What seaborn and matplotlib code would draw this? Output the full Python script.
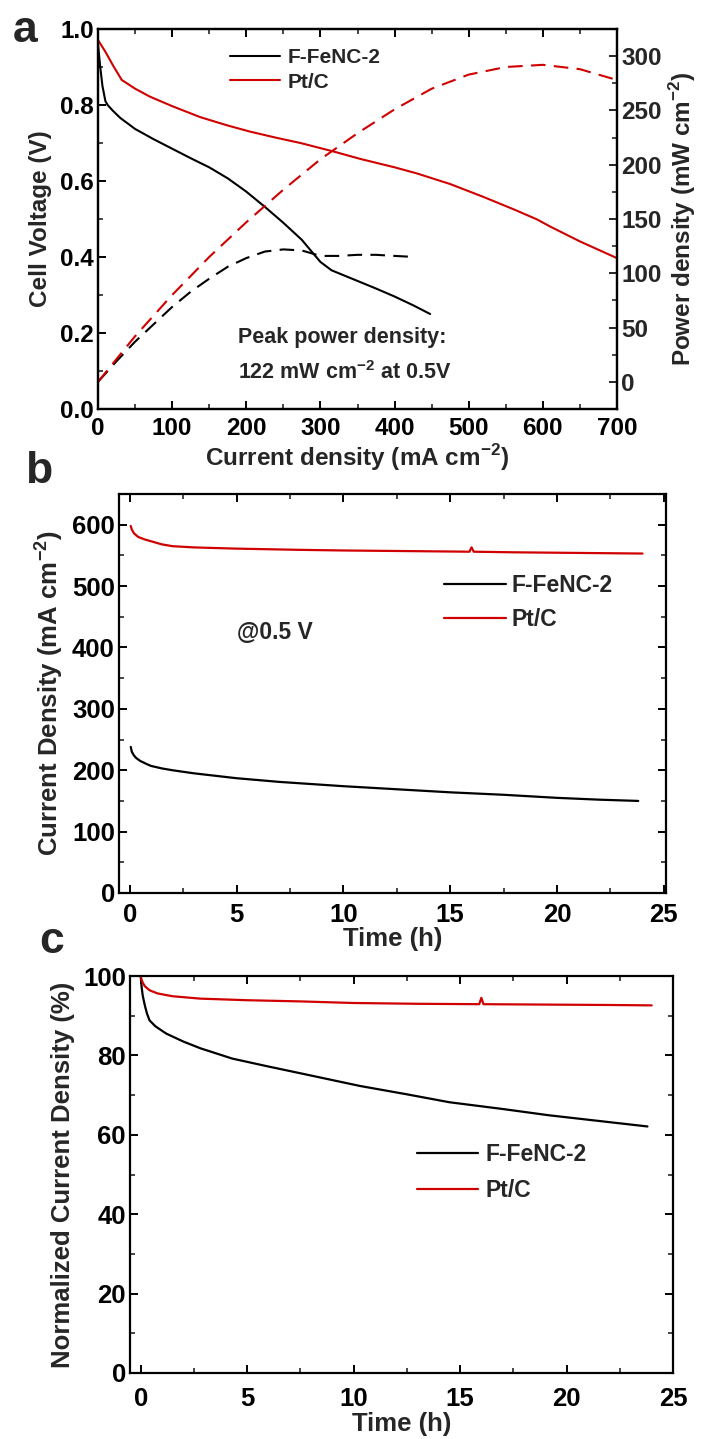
import numpy as np
import pandas as pd
import matplotlib
matplotlib.use("Agg")
import matplotlib.pyplot as plt
import seaborn as sns
from matplotlib.ticker import MultipleLocator

# ---------------- data ----------------
# panel a: polarization curves (current density mA cm-2, voltage V)
fe_x = [0, 3, 6, 10, 13, 20, 30, 50, 75, 100, 125, 150, 175, 200, 225, 250, 275, 290, 300, 315, 340, 375, 400, 425, 448]
fe_v = [0.96, 0.90, 0.85, 0.81, 0.80, 0.785, 0.766, 0.737, 0.71, 0.685, 0.66, 0.636, 0.607, 0.572, 0.532, 0.49, 0.445, 0.41, 0.387, 0.365, 0.345, 0.317, 0.296, 0.273, 0.25]
pt_x = [0, 10, 20, 32, 50, 70, 100, 138, 175, 205, 240, 273, 317, 354, 400, 430, 475, 520, 560, 592, 610, 650, 700]
pt_v = [0.971, 0.94, 0.905, 0.866, 0.843, 0.822, 0.797, 0.768, 0.746, 0.730, 0.714, 0.700, 0.678, 0.658, 0.636, 0.620, 0.592, 0.558, 0.526, 0.499, 0.480, 0.441, 0.397]
# power density (mW cm-2)
fe_pd_x = [0, 25, 50, 75, 100, 125, 150, 175, 200, 225, 250, 275, 300, 325, 350, 375, 400, 428]
fe_pd = [0, 19, 37, 53, 69, 83, 95, 106, 114, 120, 122, 121, 116, 116, 117, 117, 116, 115]
pt_pd_x = [0, 50, 100, 150, 200, 250, 300, 350, 400, 450, 500, 550, 600, 650, 700]
pt_pd = [0, 42, 80, 115, 147, 177, 205, 229, 251, 270, 283, 290, 292, 288, 278]

# panel b: current density vs time at 0.5 V
fe_t = [0.05, 0.1, 0.2, 0.3, 0.5, 0.8, 1.0, 1.5, 2, 3, 4, 5, 7, 10, 12.5, 15, 17.5, 20, 22, 23.8]
fe_i = [238, 230, 224, 220, 215, 210, 207, 203, 200, 195, 191, 187, 181, 174, 169, 164, 160, 155, 152, 150]
pt_t = [0.05, 0.1, 0.2, 0.4, 0.7, 1.0, 1.5, 2, 3, 5, 8, 10, 13, 15.9, 16.0, 16.1, 18, 21, 24]
pt_i = [598, 592, 586, 580, 576, 573, 568, 565, 563, 561, 559, 558, 557, 556, 563, 556, 555, 554, 553]

# panel c: normalized current density (%)
fe_n_t = [0.0, 0.05, 0.1, 0.2, 0.3, 0.42, 0.7, 1.2, 2.0, 2.8, 4.3, 6.0, 7.5, 10.3, 12.5, 14.5, 17.0, 19.2, 21.5, 23.8]
fe_n = [100, 97, 95, 92.5, 90.5, 88.8, 87.3, 85.5, 83.5, 81.8, 79.2, 77.2, 75.5, 72.3, 70.2, 68.2, 66.5, 64.9, 63.5, 62.1]
pt_n_t = [0.0, 0.05, 0.1, 0.2, 0.42, 0.8, 1.5, 2.8, 5.0, 7.5, 10.0, 13.0, 15.9, 16.0, 16.1, 19.0, 22.0, 24.0]
pt_n = [100, 99, 98.3, 97.4, 96.4, 95.6, 94.9, 94.3, 93.9, 93.6, 93.2, 93.0, 92.9, 94.5, 92.9, 92.8, 92.7, 92.6]

RED = "#d00000"
BLACK = "#000000"

sns.set_theme(style="ticks")
plt.rcParams["font.family"] = ["Liberation Sans", "DejaVu Sans"]
plt.rcParams["font.weight"] = "bold"
plt.rcParams["axes.labelweight"] = "bold"
plt.rcParams["mathtext.fontset"] = "custom"
plt.rcParams["mathtext.rm"] = "Liberation Sans:bold"
plt.rcParams["mathtext.bf"] = "Liberation Sans:bold"
plt.rcParams["axes.linewidth"] = 1.6
plt.rcParams["axes.edgecolor"] = "black"

W, H = 706, 1439
fig = plt.figure(figsize=(W / 100, H / 100), dpi=100)

FA = 17.5   # panel a text
FB = 18.5   # panels b, c text


def rect(l, t, r, b):
    return [l / W, 1 - b / H, (r - l) / W, (b - t) / H]


def style_ticks(ax, size, top=True, right=True, xpad=3):
    ax.tick_params(which="major", direction="in", length=6, width=1.4, labelsize=size,
                   top=top, right=right, colors="black", labelcolor="black", pad=3)
    ax.tick_params(axis="x", which="major", pad=xpad)
    ax.tick_params(which="minor", direction="in", length=3.5, width=1.2, top=top, right=right)
    for lab in ax.get_xticklabels() + ax.get_yticklabels():
        lab.set_fontweight("bold")


def line(ax, x, y, color, ls="-", lw=1.5, label=None):
    df = pd.DataFrame({"x": x, "y": y})
    sns.lineplot(data=df, x="x", y="y", ax=ax, color=color, linestyle=ls, lw=lw,
                 label=label, sort=False, estimator=None)


# ---------------- panel a ----------------
axa = fig.add_axes(rect(98, 29, 617, 409))
line(axa, fe_x, fe_v, BLACK, label="F-FeNC-2")
line(axa, pt_x, pt_v, RED, label="Pt/C")
axa.set_xlim(0, 700)
axa.set_ylim(0, 1.0)
axa.xaxis.set_major_locator(MultipleLocator(100))
axa.xaxis.set_minor_locator(MultipleLocator(50))
axa.yaxis.set_major_locator(MultipleLocator(0.2))
axa.yaxis.set_minor_locator(MultipleLocator(0.1))
axa.set_yticks([0, 0.2, 0.4, 0.6, 0.8, 1.0])
axa.set_yticklabels(["0.0", "0.2", "0.4", "0.6", "0.8", "1.0"])
style_ticks(axa, FA, top=True, right=False, xpad=6)
axa.set_xlabel(r"Current density (mA cm$^{\mathbf{-2}}$)", fontsize=FA, labelpad=1)
axa.set_ylabel("Cell Voltage (V)", fontsize=FA, labelpad=6)
axa.legend(loc="center left", bbox_to_anchor=(0.254, 0.892), frameon=False,
           prop={"size": 15, "weight": "bold"}, handlelength=2.4, handletextpad=0.38,
           labelspacing=0.25, borderaxespad=0, borderpad=0)
axa.text(0.27, 0.187, "Peak power density:", transform=axa.transAxes, fontsize=15.5,
         fontweight="bold", va="center", ha="left")
axa.text(0.27, 0.097, r"122 mW cm$^{\mathbf{-2}}$ at 0.5V", transform=axa.transAxes,
         fontsize=15.5, fontweight="bold", va="center", ha="left")

axr = axa.twinx()
line(axr, fe_pd_x, fe_pd, BLACK, ls=(0, (7, 4)))
line(axr, pt_pd_x, pt_pd, RED, ls=(0, (7, 4)))
axr.set_ylim(-25, 325)
axr.yaxis.set_major_locator(MultipleLocator(50))
axr.yaxis.set_minor_locator(MultipleLocator(25))
axr.set_yticks([0, 50, 100, 150, 200, 250, 300])
axr.tick_params(which="major", direction="in", length=6, width=1.4, labelsize=FA, left=False, right=True, pad=3)
axr.tick_params(which="minor", direction="in", length=3.5, width=1.2, left=False, right=True)
for lab in axr.get_yticklabels():
    lab.set_fontweight("bold")
axr.set_ylabel(r"Power density (mW cm$^{\mathbf{-2}}$)", fontsize=FA, labelpad=4)
axr.set_xlabel("")
axr.set_xlim(0, 700)

# ---------------- panel b ----------------
axb = fig.add_axes(rect(119, 494, 666, 893))
line(axb, fe_t, fe_i, BLACK, lw=1.6, label="F-FeNC-2")
line(axb, pt_t, pt_i, RED, lw=1.6, label="Pt/C")
axb.set_xlim(-0.5, 25.1)
axb.set_ylim(0, 650)
axb.xaxis.set_major_locator(MultipleLocator(5))
axb.xaxis.set_minor_locator(MultipleLocator(2.5))
axb.yaxis.set_major_locator(MultipleLocator(100))
axb.yaxis.set_minor_locator(MultipleLocator(50))
style_ticks(axb, FB, xpad=7)
axb.set_xlabel("Time (h)", fontsize=FB, labelpad=0)
axb.set_ylabel(r"Current Density (mA cm$^{\mathbf{-2}}$)", fontsize=FB, labelpad=5)
axb.legend(loc="center left", bbox_to_anchor=(0.594, 0.728), frameon=False,
           prop={"size": 16.5, "weight": "bold"}, handlelength=2.7, handletextpad=0.26,
           labelspacing=0.44, borderaxespad=0, borderpad=0)
axb.text(0.216, 0.652, "@0.5 V", transform=axb.transAxes, fontsize=16.5, fontweight="bold",
         va="center", ha="left")

# ---------------- panel c ----------------
axc = fig.add_axes(rect(130, 976, 673, 1373))
line(axc, fe_n_t, fe_n, BLACK, lw=1.6, label="F-FeNC-2")
line(axc, pt_n_t, pt_n, RED, lw=1.6, label="Pt/C")
axc.set_xlim(-0.5, 25.0)
axc.set_ylim(0, 100)
axc.xaxis.set_major_locator(MultipleLocator(5))
axc.xaxis.set_minor_locator(MultipleLocator(2.5))
axc.yaxis.set_major_locator(MultipleLocator(20))
axc.yaxis.set_minor_locator(MultipleLocator(10))
style_ticks(axc, FB, xpad=10)
axc.set_xlabel("Time (h)", fontsize=FB, labelpad=1)
axc.set_ylabel("Normalized Current Density (%)", fontsize=FB, labelpad=6)
axc.legend(loc="center left", bbox_to_anchor=(0.529, 0.505), frameon=False,
           prop={"size": 16.5, "weight": "bold"}, handlelength=2.66, handletextpad=0.3,
           labelspacing=0.53, borderaxespad=0, borderpad=0)

# panel letters
fig.text(13 / W, 1 - 42 / H, "a", fontsize=32, fontweight="bold", va="baseline")
fig.text(25 / W, 1 - 483 / H, "b", fontsize=32, fontweight="bold", va="baseline")
fig.text(39 / W, 1 - 953 / H, "c", fontsize=32, fontweight="bold", va="baseline")

fig.savefig("out.png", dpi=100)
